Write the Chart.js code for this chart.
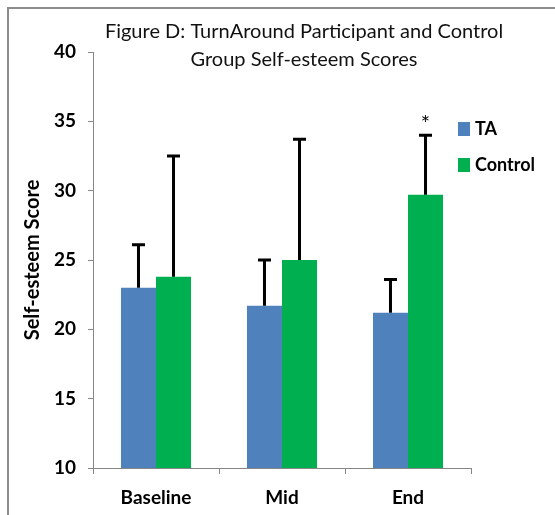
<!DOCTYPE html>
<html>
<head>
<meta charset="utf-8">
<script src="https://cdn.jsdelivr.net/npm/chart.js@4.4.0/dist/chart.umd.min.js"></script>
<style>
html, body { margin: 0; padding: 0; background: #fff; }
#wrap { width: 555px; height: 515px; }
</style>
</head>
<body>
<div id="wrap"><canvas id="chart" width="555" height="515"></canvas></div>
<script>
//chart data
const categories = ["Baseline", "Mid", "End"]
const taScores = [23.0, 21.7, 21.2]
const taSD = [3.1, 3.3, 2.4]
const controlScores = [23.8, 25.0, 29.7]
const controlSD = [8.7, 8.7, 4.3]
const controlMarks = ["", "", "*"]
const yTicks = [10, 15, 20, 25, 30, 35, 40]
const titleLines = ["Figure D: TurnAround Participant and Control", "Group Self-esteem Scores"]
const yTitle = "Self-esteem Score"

const FONT = "Lato, 'Open Sans', sans-serif"
const AXIS_GRAY = "#868686"

//frame, title, legend, error bars
const decorations = {
    id: "decorations",
    beforeDraw(chart){
        const ctx = chart.ctx
        ctx.save()
        ctx.fillStyle = "#fff"
        ctx.fillRect(0, 0, chart.width, chart.height)
        ctx.strokeStyle = "#8c8c8c"
        ctx.lineWidth = 2
        ctx.beginPath()
        ctx.moveTo(8, chart.height)
        ctx.lineTo(8, 8)
        ctx.lineTo(chart.width, 8)
        ctx.stroke()

        ctx.fillStyle = "#111"
        ctx.font = `20px ${FONT}`
        ctx.textAlign = "center"
        ctx.textBaseline = "middle"
        titleLines.forEach((t, i) => ctx.fillText(t, 304, 32 + i * 28))
        ctx.restore()
    },
    afterDatasetsDraw(chart){
        const ctx = chart.ctx
        const y = chart.scales.y
        ctx.save()
        chart.data.datasets.forEach((ds, i) => {
            chart.getDatasetMeta(i).data.forEach((bar, j) => {
                const top = y.getPixelForValue(ds.data[j] + ds.sd[j])
                ctx.strokeStyle = "#000"
                ctx.lineWidth = 3
                ctx.beginPath()
                ctx.moveTo(bar.x, bar.y)
                ctx.lineTo(bar.x, top)
                ctx.moveTo(bar.x - 6.5, top)
                ctx.lineTo(bar.x + 6.5, top)
                ctx.stroke()
                if(ds.marks && ds.marks[j]){
                    ctx.fillStyle = "#000"
                    ctx.font = `22px ${FONT}`
                    ctx.textAlign = "center"
                    ctx.textBaseline = "middle"
                    ctx.fillText(ds.marks[j], bar.x, top - 11)
                }
            })
        })

        //legend
        ctx.font = `bold 18px ${FONT}`
        ctx.textAlign = "left"
        ctx.textBaseline = "middle"
        chart.data.datasets.forEach((ds, i) => {
            const cy = 129 + i * 36
            ctx.fillStyle = ds.backgroundColor
            ctx.fillRect(458, cy - 7, 12, 14)
            ctx.fillStyle = "#000"
            ctx.fillText(ds.label, 475, cy)
        })
        ctx.restore()
    }
}

new Chart(document.getElementById("chart"), {
    type: "bar",
    data: {
        labels: categories,
        datasets: [
            {label: "TA", data: taScores, sd: taSD, backgroundColor: "#4F81BD"},
            {label: "Control", data: controlScores, sd: controlSD, marks: controlMarks, backgroundColor: "#00B050"}
        ]
    },
    options: {
        responsive: false,
        animation: false,
        events: [],
        categoryPercentage: 0.556,
        barPercentage: 1,
        layout: {padding: {left: 17, top: 52, right: 84, bottom: 0}},
        scales: {
            y: {
                min: yTicks[0],
                max: yTicks[yTicks.length - 1],
                afterBuildTicks: s => { s.ticks = yTicks.map(v => ({value: v})) },
                afterFit: s => { s.width = 76 },
                border: {color: AXIS_GRAY, width: 1},
                grid: {drawOnChartArea: false, tickLength: 5, color: AXIS_GRAY},
                ticks: {color: "#000", padding: 12, font: {family: FONT, weight: "bold", size: 19}},
                title: {display: true, text: yTitle, color: "#000", padding: {top: 4, bottom: 0}, font: {family: FONT, weight: "bold", size: 20}}
            },
            x: {
                afterFit: s => { s.height = 47 },
                border: {color: AXIS_GRAY, width: 1},
                grid: {drawOnChartArea: false, tickLength: 6, color: AXIS_GRAY, offset: true},
                ticks: {color: "#000", padding: 12, font: {family: FONT, weight: "bold", size: 19}}
            }
        },
        plugins: {
            legend: {display: false},
            title: {display: false},
            tooltip: {enabled: false}
        }
    },
    plugins: [decorations]
})
</script>
</body>
</html>
